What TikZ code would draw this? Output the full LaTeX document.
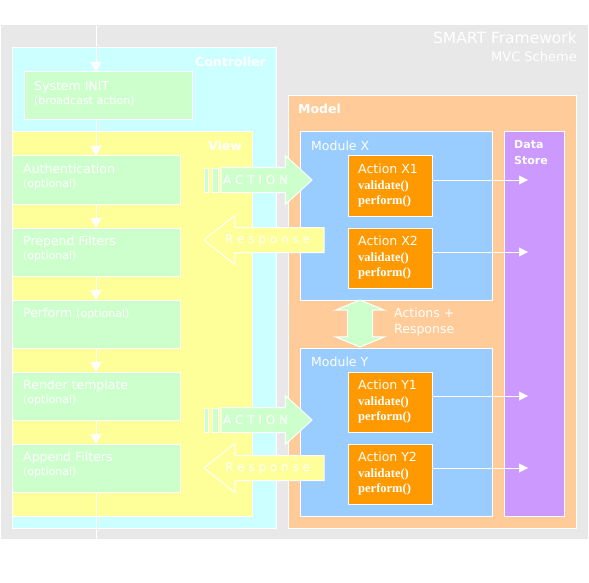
\documentclass[tikz,border=0pt]{standalone}
\usepackage{fontspec}
\setmainfont{DejaVu Sans}
\newfontfamily\methodfont{Liberation Serif}
\usetikzlibrary{positioning,shapes.arrows,arrows.meta}

\definecolor{framegray}{HTML}{E8E8E8}
\definecolor{ctrlcyan}{HTML}{CCFFFF}
\definecolor{viewyellow}{HTML}{FFFF99}
\definecolor{stagegreen}{HTML}{CCFFCC}
\definecolor{modelorange}{HTML}{FFCC99}
\definecolor{moduleblue}{HTML}{99CCFF}
\definecolor{actionorange}{HTML}{FF9900}
\definecolor{storepurple}{HTML}{CC99FF}

\newcommand\opttext[1]{{\fontsize{11}{14.5}\selectfont #1}}
\newcommand\methodcall[1]{{\methodfont\bfseries #1}}

\tikzset{
    regionbox/.style={draw=white, line width=1pt, fill=#1, anchor=north west,
        inner sep=0pt, outer sep=0pt},
    stagebox/.style={regionbox=stagegreen, minimum width=168pt, minimum height=48pt},
    actionbox/.style={regionbox=actionorange, minimum width=84pt, minimum height=60pt},
    regiontitle/.style={inner sep=0pt, text=white, align=left,
        font=\bfseries\fontsize{12.5}{16}\selectfont},
    boxtext/.style={inner sep=0pt, text=white, align=left,
        font=\fontsize{12.5}{14.5}\selectfont},
    optnote/.style={inner sep=0pt, text=white, anchor=base west,
        font=\fontsize{11}{14.5}\selectfont},
    flowline/.style={draw=white, line width=1pt},
    flowarrow/.style={flowline, -{Triangle[width=11pt,length=10pt]}},
    storearrow/.style={flowline, -{Triangle[width=9pt,length=9pt]}},
    fatarrow/.style={single arrow, draw=white, line width=1pt, fill=#1,
        anchor=tip, inner sep=0pt, inner ysep=12pt, outer sep=0pt,
        text height=0pt, text depth=0pt, minimum width=0pt,
        single arrow head extend=12pt},
    arrowtext/.style={inner sep=0pt, text=white, font=\fontsize{12}{14}\selectfont},
    actionbar/.style={draw=white, line width=1pt, fill=stagegreen}
}

\begin{document}
\begin{tikzpicture}[x=1pt, y=-1pt]
    \useasboundingbox (0,0) rectangle (589,583);

    % framework
    \node[regionbox=framegray, draw=none, minimum width=587pt, minimum height=514pt] (framework) at (1,25) {};
    \node[boxtext, font=\fontsize{15.5}{18}\selectfont, below left=7pt and 11pt of framework.north east] (title) {SMART Framework};
    \node[boxtext, font=\fontsize{13}{15}\selectfont, anchor=north east] (scheme) at ([yshift=-7pt]title.south east) {MVC Scheme};

    % controller and view
    \node[regionbox=ctrlcyan, minimum width=264pt, minimum height=480pt] (controller) at (12,48) {};
    \node[regiontitle, below left=9pt and 10pt of controller.north east] (ctrltitle) {Controller};
    \node[stagebox] (sysinit) at (24,72) {};
    \node[boxtext, below right=9pt and 10pt of sysinit.north west] (lblsysinit) {System INIT};
    \node[optnote] (optsysinit) at ([yshift=-14pt]lblsysinit.base west) {(broadcast action)};
    \node[regionbox=viewyellow, minimum width=240pt, minimum height=384pt] (view) at (12,132) {};
    \node[regiontitle, below left=9pt and 10pt of view.north east] (viewtitle) {View};
    \foreach \nm/\ypos/\lbl in {auth/156/Authentication, prepend/228/Prepend Filters,
            render/372/Render template, append/444/Append Filters}{
        \node[stagebox] (\nm) at (12,\ypos) {};
        \node[boxtext, below right=8pt and 11pt of \nm.north west] (lbl\nm) {\lbl};
        \node[optnote] (opt\nm) at ([yshift=-14pt]lbl\nm.base west) {(optional)};
    }
    \node[stagebox] (perform) at (12,300) {};
    \node[boxtext, below right=8pt and 11pt of perform.north west] (lblperform) {Perform \opttext{(optional)}};

    % model
    \node[regionbox=modelorange, minimum width=288pt, minimum height=432pt] (model) at (288,96) {};
    \node[regiontitle, below right=8pt and 10pt of model.north west] (modeltitle) {Model};
    \node[regionbox=moduleblue, minimum width=192pt, minimum height=168pt] (modx) at (300,132) {};
    \node[boxtext, below right=9pt and 11pt of modx.north west] (lblmodx) {Module X};
    \node[regionbox=moduleblue, minimum width=192pt, minimum height=168pt] (mody) at (300,348) {};
    \node[boxtext, below right=9pt and 11pt of mody.north west] (lblmody) {Module Y};
    \node[regionbox=storepurple, minimum width=60pt, minimum height=384pt] (store) at (504,132) {};
    \node[regiontitle, font=\bfseries\fontsize{11}{16}\selectfont, below right=8pt and 10pt of store.north west] (storetitle) {Data\\Store};
    \foreach \nm/\ypos/\lbl in {actx1/156/Action X1, actx2/228/Action X2, acty1/372/Action Y1, acty2/444/Action Y2}{
        \node[actionbox] (\nm) at (348,\ypos) {};
        \node[boxtext, font=\fontsize{12.5}{15.5}\selectfont, below right=8pt and 10pt of \nm.north west] (lbl\nm)
            {\lbl\\\methodcall{validate()}\\\methodcall{perform()}};
        \coordinate (store\nm) at (528,\ypos+24);
        \draw[storearrow] (\nm.east |- store\nm) -- (store\nm);
    }

    % request flow
    \coordinate (flowtop) at (96,0);
    \coordinate (flowbot) at (96,583);
    \draw[flowarrow] (flowtop) -- (auth.north |- sysinit.north);
    \draw[flowarrow] (auth.north |- sysinit.south) -- (auth.north);
    \foreach \a/\b in {auth/prepend, prepend/perform, perform/render, render/append}
        \draw[flowarrow] (\a.south) -- (\b.north);
    \draw[flowline] (append.south) -- (flowbot);

    % actions and responses
    \foreach \nm/\ymid in {act1/180, act2/420}{
        \draw[actionbar] (204,\ymid-12) rectangle (208,\ymid+12);
        \draw[actionbar] (212,\ymid-12) rectangle (218,\ymid+12);
        \node[fatarrow=stagegreen, single arrow tip angle=85, minimum height=91pt] (\nm) at (312,\ymid) {};
        \node[arrowtext, right=2pt of \nm.tail] (lbl\nm) {A C T I O N};
    }
    \foreach \nm/\ymid in {resp1/240, resp2/468}{
        \node[fatarrow=viewyellow, shape border rotate=180, single arrow tip angle=77, minimum height=120pt] (\nm) at (204,\ymid) {};
        \node[arrowtext, right=21pt of \nm.tip] (lbl\nm) {R e s p o n s e};
    }
    \node[double arrow, draw=white, line width=1pt, fill=stagegreen, shape border rotate=90,
        inner sep=12pt, outer sep=0pt, text height=0pt, text depth=0pt,
        minimum width=0pt, minimum height=47pt, double arrow head extend=12pt,
        double arrow tip angle=135] (xylink) at (360,323.5) {};
    \node[boxtext, font=\fontsize{12.5}{16}\selectfont, anchor=west] (lblxylink) at (394,322) {Actions +\\Response};
\end{tikzpicture}
\end{document}
